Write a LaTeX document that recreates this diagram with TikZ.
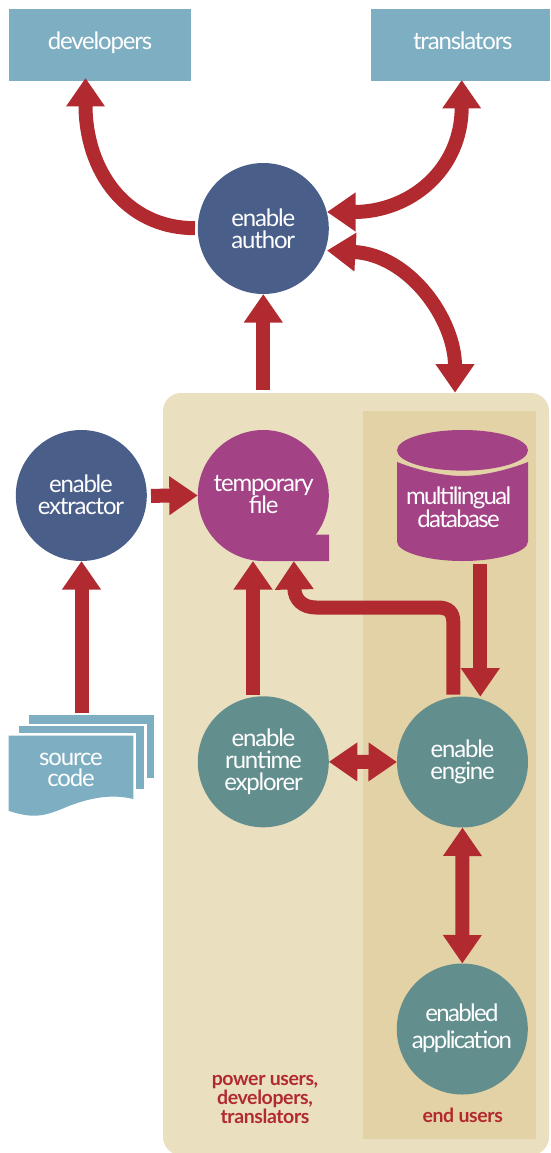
\documentclass[tikz,border=0pt]{standalone}
\usepackage{fontspec}
\setmainfont[LetterSpace=-5]{Lato}
\newfontfamily\tightfont[LetterSpace=-7]{Lato}
\newfontfamily\redfont[LetterSpace=-2]{Lato Bold}
\usetikzlibrary{arrows.meta,calc}
\definecolor{boxblue}{HTML}{7DAEC2}
\definecolor{navy}{HTML}{4A5E8A}
\definecolor{magen}{HTML}{A34285}
\definecolor{teal2}{HTML}{628F8E}
\definecolor{redarr}{HTML}{B12A30}
\definecolor{panel}{HTML}{EAE0C0}
\definecolor{inner}{HTML}{E3D2A5}
\tikzset{
  disc/.style={circle,fill=#1,minimum size=131pt,inner sep=0pt,outer sep=0pt},
  actor/.style={rectangle,fill=boxblue,inner sep=0pt,outer sep=0pt,anchor=north west},
  lbl/.style={text=white,align=center,anchor=base,inner sep=0pt,font=\fontsize{24}{22}\selectfont},
  redlbl/.style={text=redarr,align=center,anchor=base,inner sep=0pt,font=\redfont\fontsize{19.5}{17}\selectfont},
  arr/.style={draw=redarr,line width=14pt,-{Triangle[width=37pt,length=28.5pt,fill=redarr]}},
  darr/.style={draw=redarr,line width=14pt,{Triangle[width=37pt,length=28.5pt,fill=redarr]}-{Triangle[width=37pt,length=28.5pt,fill=redarr]}},
}
\begin{document}
\begin{tikzpicture}[x=1pt,y=-1pt]
\useasboundingbox (0,0) rectangle (550,1153);
% panels
\begin{scope}
\clip (0,0) rectangle (550,1153);
\fill[panel,rounded corners=18pt] (163,393) rectangle (549,1155);
\end{scope}
\fill[inner] (363,411) rectangle (536,1139);
% actors
\node[actor,minimum width=182pt,minimum height=72pt] (dev) at (9,9) {};
\node[actor,minimum width=179pt,minimum height=72pt] (tra) at (371,9) {};
\node[lbl] (devt) at (100,50) {developers};
\node[lbl] (trat) at (462.8,50) {translators};
% discs
\node[disc=navy] (author) at (263.3,228.5) {};
\node[disc=navy] (extractor) at (81.3,495.5) {};
\node[disc=magen] (temp) at (263.3,495.5) {};
\fill[magen] (263.3,561) -- (329,561) -- (329,534.7) -- (316.7,534.7) -- (290,540) -- cycle;
\node[disc=teal2] (runtime) at (263.3,761.8) {};
\node[disc=teal2] (engine) at (462.5,762) {};
\node[disc=teal2] (app) at (462.3,1029) {};
% database
\fill[magen] (397,462) .. controls (420,471) and (445,476) .. (462.5,476) .. controls (480,476) and (505,471) .. (528,462) -- (528,541.5) .. controls (528,552) and (498,561) .. (462.5,561) .. controls (427,561) and (397,552) .. (397,541.5) -- cycle;
\fill[magen] (462.5,450.3) ellipse [x radius=65.5pt,y radius=20.3pt];
\coordinate (dbbot) at (480.3,563.7);
% source code
\fill[boxblue] (29.3,715) rectangle (154.3,778);
\fill[white] (17,723.5) rectangle (146.5,789);
\fill[boxblue] (19,726) rectangle (144,789);
\fill[white] (17,733) rectangle (136,799);
\fill[boxblue] (8.5,735.7) -- (133.4,735.7) -- (133.4,799) .. controls (112,794) and (92,797) .. (67,806.7) .. controls (55,812) and (44,816) .. (33,815.7) .. controls (24,815.5) and (15,813) .. (8.5,810.7) -- cycle;
\coordinate (srctop) at (81.5,713);
% texts
\node[lbl] (a1) at (263.3,248.5) {enable\\author};
\node[lbl] (e1) at (81,514.8) {enable\\extractor};
\node[lbl] (t1) at (263.7,513.5) {temporary\\file};
\node[lbl,font=\tightfont\fontsize{24}{22}\selectfont] (m1) at (458.6,527.5) {multilingual\\database};
\node[lbl] (r1) at (263.5,790) {enable\\runtime\\explorer};
\node[lbl] (g1) at (462.5,779.5) {enable\\engine};
\node[lbl,font=\tightfont\fontsize{24}{27.5}\selectfont] (p1) at (462,1048.7) {enabled\\application};
\node[lbl,font=\fontsize{24}{21}\selectfont] (s1) at (71,786) {source\\code};
\node[redlbl] (u1) at (265,1123) {power users,\\developers,\\translators};
\node[redlbl] (u2) at (462.7,1122) {end users};
% connectors
\coordinate (devfoot) at (195,228.2);
\coordinate (devtip) at (85.5,78);
\coordinate (tratip) at (461.7,80);
\coordinate (autr) at (327,212);
\coordinate (autd) at (327,250.5);
\coordinate (pantip) at (455,392.7);
\coordinate (panup) at (263.3,390);
\coordinate (engup) at (453.3,694.7);
\coordinate (runup) at (253,694.7);
\coordinate (exout) at (151,495.8);
\coordinate (bend1) at (293.8,561);
\coordinate (run2) at (253,561);
\draw[arr] (devfoot) .. controls (125,228) and (85.5,170) .. (devtip);
\draw[darr] (tratip) .. controls (461.7,170) and (410,212) .. (autr);
\draw[darr] (autd) .. controls (410,255) and (455,320) .. (pantip);
\draw[arr] (panup) -- (author.south);
\draw[arr] (srctop) -- (srctop |- extractor.south);
\draw[arr] (exout) -- (temp.west);
\draw[arr] (runup) -- (run2);
\draw[arr] (engup) -- (453.3,622) .. controls (453.3,612) and (448,607.5) .. (438,607.5) -- (316,607.5) .. controls (303,607.5) and (294.5,600) .. (bend1);
\draw[arr] (dbbot) -- (480.3,696.7);
\draw[darr] (runtime.east) -- (engine.west);
\draw[darr] (engine.south) -- (app.north);
\end{tikzpicture}
\end{document}
